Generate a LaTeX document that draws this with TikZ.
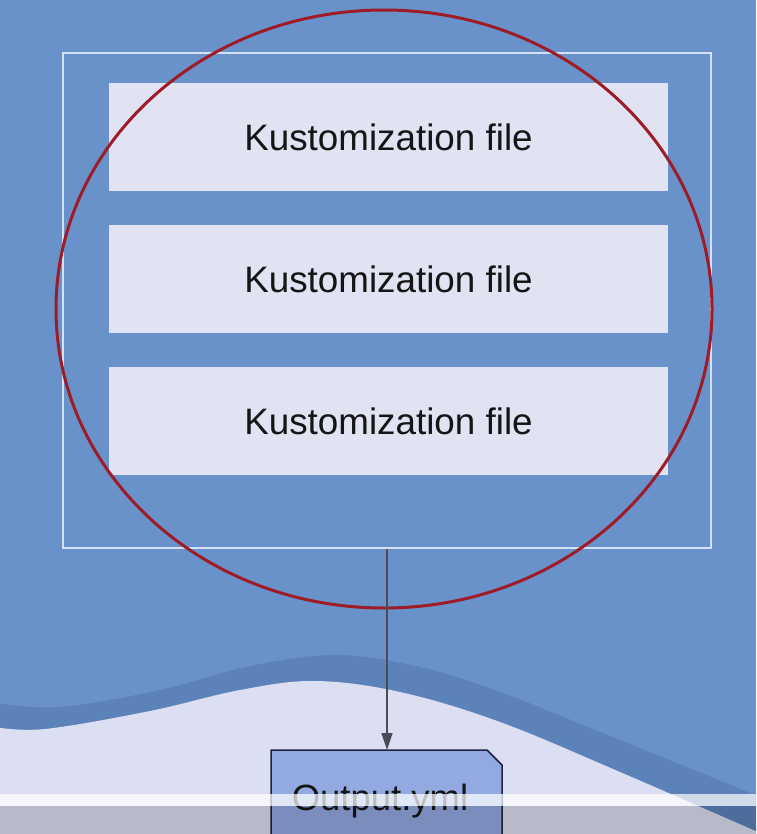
\documentclass[tikz,border=0pt]{standalone}
\usepackage{fontspec}
\setmainfont{Liberation Sans}
\usetikzlibrary{arrows.meta}
\definecolor{bgblue}{HTML}{6992CB}
\definecolor{bandblue}{HTML}{5C82BA}
\definecolor{lightarea}{HTML}{DCDEF1}
\definecolor{boxfill}{HTML}{E1E3F3}
\definecolor{framecol}{HTML}{D5E0F4}
\definecolor{ellred}{HTML}{9E1C28}
\definecolor{outfill}{HTML}{93A9E2}
\definecolor{outline}{HTML}{1C2340}
\definecolor{arrowcol}{HTML}{4A4D57}
\definecolor{txtcol}{HTML}{151515}
\tikzset{
  kbox/.style={fill=boxfill, draw=none, minimum width=559pt, minimum height=108pt, inner sep=0pt,
    text=txtcol, font=\fontsize{36.8}{44}\selectfont},
  framebox/.style={draw=framecol, line width=1.5pt, minimum width=648pt, minimum height=495pt, inner sep=0pt},
  conn/.style={draw=arrowcol, line width=1.4pt, -{Triangle[length=17pt,width=11pt]}},
  outtext/.style={text=txtcol, font=\fontsize{36.5}{44}\selectfont, inner sep=0pt}
}
\begin{document}
\begin{tikzpicture}[x=1pt,y=-1pt]
\useasboundingbox (0,0) rectangle (756,834);
\begin{scope}
\clip (0,0) rectangle (756,834);
\fill[bgblue] (0,0) rectangle (756,834);
% dark band
\fill[bandblue] plot[smooth, tension=0.6] coordinates {(-5,703) (60,707) (160,690) (250,666) (337,655) (420,667) (500,692) (620,740) (760,797)} -- (760,840) -- (-5,840) -- cycle;
% light area
\fill[lightarea] plot[smooth, tension=0.6] coordinates {(-5,727) (45,729) (150,711) (240,690) (315,681) (400,692) (500,722) (620,772) (760,833)} -- (760,840) -- (-5,840) -- cycle;
% frame and boxes
\node[framebox] (frame) at (387,300.5) {};
\node[kbox] (k1) at (388.5,137) {Kustomization file};
\node[kbox] (k2) at (388.5,279) {Kustomization file};
\node[kbox] (k3) at (388.5,421) {Kustomization file};
% selection ellipse
\draw[ellred, line width=3pt] (384,309) ellipse [x radius=328, y radius=299];
% output box
\filldraw[fill=outfill, draw=outline, line width=1.5pt] (271,845) -- (271,750) -- (487,750) -- (502,765) -- (502,845);
\coordinate (outtop) at (387,750);
\node[outtext] (out) at (380,801) {Output.yml};
\draw[conn] (frame.south) -- (outtop);
% video player overlays
\fill[black, opacity=0.16] (0,806) rectangle (756,834);
\fill[white, opacity=0.72] (0,794) rectangle (756,806);
\end{scope}
\end{tikzpicture}
\end{document}
